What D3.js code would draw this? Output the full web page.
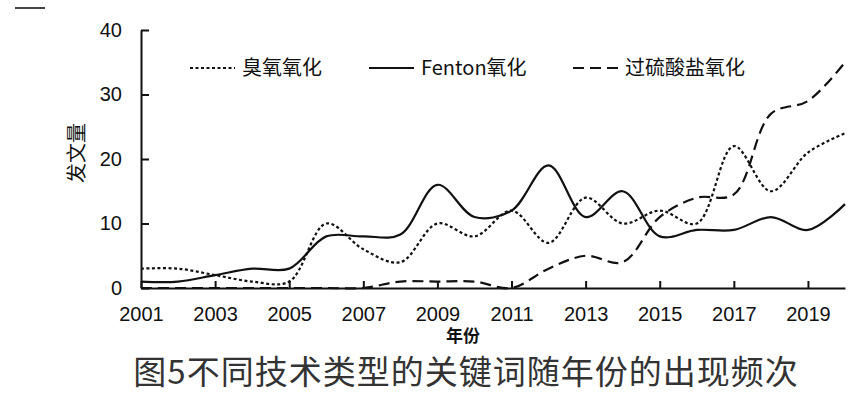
<!DOCTYPE html>
<html>
<head>
<meta charset="utf-8">
<script src="https://cdn.jsdelivr.net/npm/d3@7"></script>
<style>
  body { margin: 0; background: #fff; }
  .line { fill: none; stroke: #111; stroke-width: 2.2px; }
  .axis path, .axis line { stroke: #111; stroke-width: 2px; }
  .axis text { font-family: "Liberation Sans", Arial, sans-serif; font-size: 20px; fill: #111; }
</style>
</head>
<body>
<script>
// datos
var years = [2001,2002,2003,2004,2005,2006,2007,2008,2009,2010,2011,2012,2013,2014,2015,2016,2017,2018,2019,2020];
var ozone      = [3,3,2,1,1,10,6,4,10,8,12,7,14,10,12,10,22,15,21,24];
var fenton     = [1,1,2,3,3,8,8,8.3,16,11,12,19,11,15,8,9,9,11,9,13];
var persulfate = [0,0,0,0,0,0,0,1,1,1,0,3,5,4,11,14,14.5,27,29,35];
var seriesNames = ["臭氧氧化", "Fenton氧化", "过硫酸盐氧化"];
var xTicks = [2001,2003,2005,2007,2009,2011,2013,2015,2017,2019];
var yTicks = [0,10,20,30,40];

var width = 864, height = 394;
var margin = {top: 30, left: 141, right: 19, bottom: 106};

var x = d3.scaleLinear().domain([2001, 2020]).range([margin.left, width - margin.right]);
var y = d3.scaleLinear().domain([0, 40]).range([height - margin.bottom, margin.top]);

var svg = d3.select("body").append("svg")
    .attr("width", width)
    .attr("height", height);

// trazo suelto arriba a la izquierda
svg.append("line")
    .attr("x1", 15).attr("x2", 45).attr("y1", 8).attr("y2", 8)
    .attr("stroke", "#444").attr("stroke-width", 2);

var series = [
  {name: seriesNames[0], values: ozone, dash: "3,2.5"},
  {name: seriesNames[1], values: fenton, dash: null},
  {name: seriesNames[2], values: persulfate, dash: "11,6"}
];

var line = d3.line()
    .x(function(d, i) { return x(years[i]); })
    .y(function(d) { return y(d); })
    .curve(d3.curveCatmullRom.alpha(0.5));

series.forEach(function(s) {
  svg.append("path")
     .datum(s.values)
     .attr("class", "line")
     .attr("stroke-dasharray", s.dash)
     .attr("d", line);
});

// ejes
svg.append("g")
    .attr("class", "axis")
    .attr("transform", "translate(0," + y(0) + ")")
    .call(d3.axisBottom(x).tickValues(xTicks).tickFormat(d3.format("d"))
          .tickSize(-7).tickSizeOuter(0).tickPadding(19));

svg.append("g")
    .attr("class", "axis")
    .attr("transform", "translate(" + x(2001) + ",0)")
    .call(d3.axisLeft(y).tickValues(yTicks)
          .tickSize(-8).tickSizeOuter(0).tickPadding(19));

// leyenda
var legendX = [190, 369, 573];
var legend = svg.selectAll(".legend").data(series).enter().append("g")
    .attr("transform", function(d, i) { return "translate(" + legendX[i] + ",68)"; });
legend.append("line")
    .attr("x1", 0).attr("x2", 45).attr("y1", 0).attr("y2", 0)
    .attr("stroke", "#111").attr("stroke-width", 2.2)
    .attr("stroke-dasharray", function(d) { return d.dash; });
legend.append("text")
    .attr("x", 52).attr("y", 7)
    .style("font-family", "'Noto Sans CJK SC', sans-serif")
    .style("font-size", "20px")
    .attr("fill", "#111")
    .text(function(d) { return d.name; });

// titulos
svg.append("text")
    .attr("transform", "translate(84,153) rotate(-90)")
    .attr("text-anchor", "middle")
    .style("font-family", "'Noto Sans CJK SC', sans-serif")
    .style("font-size", "20px")
    .attr("fill", "#111")
    .text("发文量");

svg.append("text")
    .attr("x", 463).attr("y", 342)
    .attr("text-anchor", "middle")
    .style("font-family", "'Noto Sans CJK SC', sans-serif")
    .style("font-size", "17px")
    .style("font-weight", "bold")
    .attr("fill", "#111")
    .text("年份");

svg.append("text")
    .attr("x", 466).attr("y", 384)
    .attr("text-anchor", "middle")
    .style("font-family", "'Noto Sans CJK SC', sans-serif")
    .style("font-size", "33px")
    .style("letter-spacing", "1px")
    .attr("fill", "#333")
    .text("图5不同技术类型的关键词随年份的出现频次");
</script>
</body>
</html>
